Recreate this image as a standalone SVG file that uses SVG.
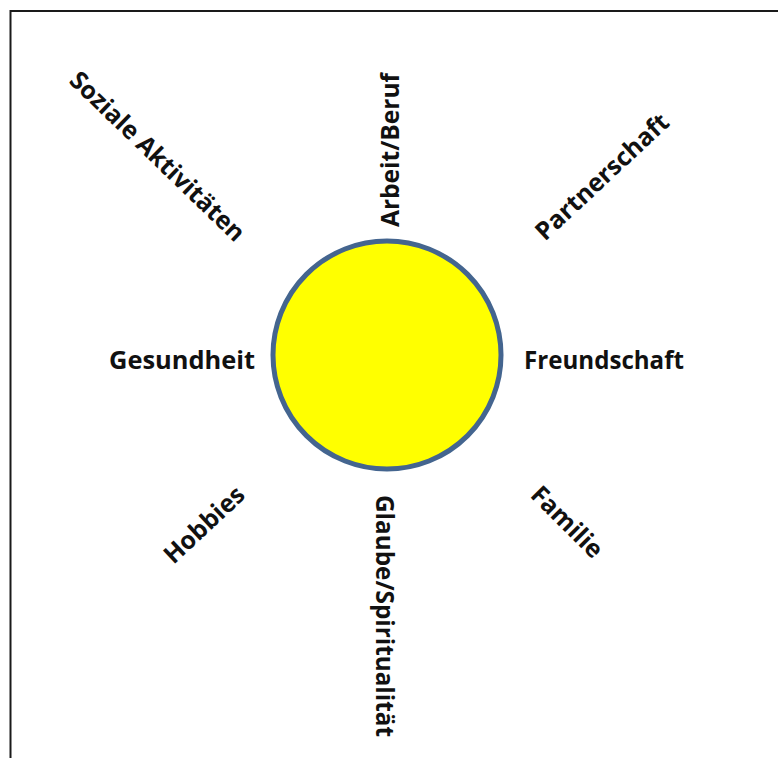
<svg xmlns="http://www.w3.org/2000/svg" width="778" height="758" viewBox="0 0 778 758">
<style>
.lbl{font-family:"Open Sans","Liberation Sans",sans-serif;font-weight:bold;font-size:25px;fill:#111;text-anchor:middle}
</style>
<rect width="778" height="758" fill="#fff"/>
<path d="M10.5,758 V11 H778" fill="none" stroke="#1a1a1a" stroke-width="2"/>
<g id="sun"><circle cx="387" cy="355" r="114" fill="#ffff00" stroke="#44658f" stroke-width="5"/></g>
<g id="connectors"></g>
<g id="arbeit"><text class="lbl" transform="translate(399,150) rotate(-90)" textLength="154" lengthAdjust="spacingAndGlyphs">Arbeit/Beruf</text></g>
<g id="glaube"><text class="lbl" transform="translate(376,616) rotate(90)" textLength="242" lengthAdjust="spacingAndGlyphs">Glaube/Spiritualität</text></g>
<g id="gesundheit"><text class="lbl" x="182" y="369" textLength="146" lengthAdjust="spacingAndGlyphs">Gesundheit</text></g>
<g id="freundschaft"><text class="lbl" x="604" y="369" textLength="160" lengthAdjust="spacingAndGlyphs">Freundschaft</text></g>
<g id="soziale"><text class="lbl" transform="translate(151.5,162.5) rotate(44)" textLength="232" lengthAdjust="spacingAndGlyphs">Soziale Aktivitäten</text></g>
<g id="partnerschaft"><text class="lbl" transform="translate(608,183) rotate(-43)" textLength="172" lengthAdjust="spacingAndGlyphs">Partnerschaft</text></g>
<g id="hobbies"><text class="lbl" transform="translate(210,531) rotate(-43)" textLength="100" lengthAdjust="spacingAndGlyphs">Hobbies</text></g>
<g id="familie"><text class="lbl" transform="translate(561,528) rotate(45)" textLength="90" lengthAdjust="spacingAndGlyphs">Familie</text></g>
</svg>
